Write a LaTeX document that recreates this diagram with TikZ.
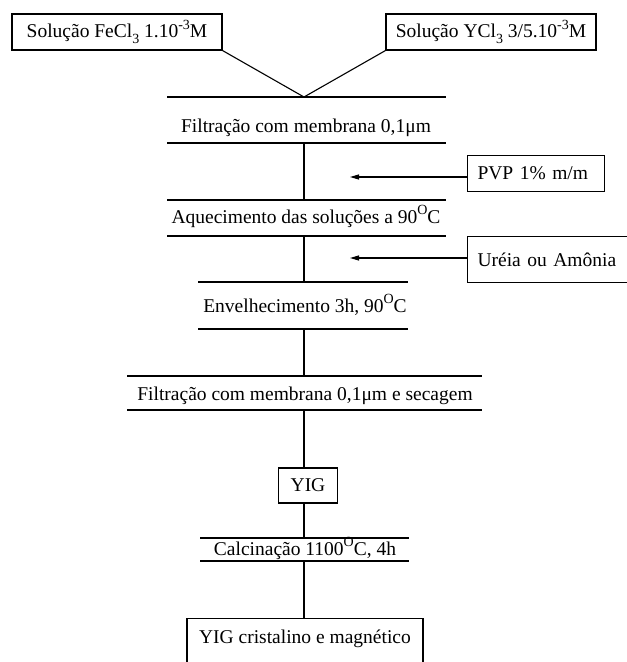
\documentclass[tikz,border=0pt]{standalone}
\usepackage{fontspec}
\setmainfont{Liberation Serif}
\usetikzlibrary{arrows.meta}
\newcommand\mysup[1]{\raisebox{0.42em}{\fontsize{14}{14}\selectfont #1}}
\newcommand\mysub[1]{\raisebox{-0.28em}{\fontsize{14}{14}\selectfont #1}}
\begin{document}
\begin{tikzpicture}[x=1pt,y=-1pt, line width=1.1pt,
  every node/.style={font=\fontsize{19.5}{22}\selectfont},
  box/.style={draw, inner sep=0pt},
  sidebox/.style={draw, inner xsep=10pt, inner ysep=0pt, align=left},
  lbl/.style={anchor=base, inner sep=0pt},
  feed/.style={-{Triangle[length=9pt,width=5pt]}}]
\useasboundingbox (0,0) rectangle (627,662);
\clip (0,0) rectangle (627,662);
\fill[white] (0,0) rectangle (627,662);

% top boxes
\node[box, minimum width=210pt, minimum height=36pt] (fe) at (117,32)
  {Solução FeCl\mysub{3} 1.10\mysup{-3}M};
\node[box, minimum width=210pt, minimum height=36pt] (ycl) at (491,32)
  {Solução YCl\mysub{3} 3/5.10\mysup{-3}M};
\coordinate (apex) at (304,97);
\draw (fe.south east) -- (apex);
\draw (ycl.south west) -- (apex);

% step 1
\draw (167,97) -- (446,97);
\node[lbl] (t1) at (306,132) {Filtração com membrana 0,1μm};
\draw (167,143) -- (446,143);
\coordinate (t1b) at (304,143);

% step 2
\coordinate (t2a) at (304,200);
\draw (t1b) -- (t2a);
\draw (167,200) -- (446,200);
\node[lbl] (t2) at (306,223) {Aquecimento das soluções a 90\mysup{O}C};
\draw (167,236) -- (446,236);
\coordinate (t2b) at (304,236);

% PVP
\node[sidebox, minimum height=36pt, text width=117pt, anchor=north west] (pvp) at (467,155) {PVP 1\% m/m};
\coordinate (pa) at (350,177);
\draw[feed] (pvp.west |- pa) -- (pa);

% step 3
\coordinate (t3a) at (304,282);
\draw (t2b) -- (t3a);
\draw (198,282) -- (408,282);
\node[lbl] (t3) at (305,312) {Envelhecimento 3h, 90\mysup{O}C};
\draw (198,329) -- (408,329);
\coordinate (t3b) at (304,329);

% Ureia
\node[sidebox, minimum height=46pt, text width=180pt, anchor=north west] (ur) at (467,236) {Uréia ou Amônia};
\coordinate (ua) at (350,258);
\draw[feed] (ur.west |- ua) -- (ua);

% step 4
\coordinate (t4a) at (304,376);
\draw (t3b) -- (t4a);
\draw (127,376) -- (482,376);
\node[lbl] (t4) at (305,400) {Filtração com membrana 0,1μm e secagem};
\draw (127,410) -- (482,410);
\coordinate (t4b) at (304,410);

% YIG
\node[box, minimum width=59pt, minimum height=35pt] (yig) at (308,485.5) {YIG};
\draw (t4b) -- (t4b |- yig.north);

% step 5
\coordinate (t5a) at (304,538);
\draw (t5a |- yig.south) -- (t5a);
\draw (200,538) -- (409,538);
\node[lbl] (t5) at (305,555) {Calcinação 1100\mysup{O}C, 4h};
\draw (200,561) -- (409,561);
\coordinate (t5b) at (304,561);

% final
\node[box, minimum width=236pt, text height=15pt, text depth=45pt, inner ysep=10pt, anchor=north] (fin) at (305,618) {YIG cristalino e magnético};
\draw (t5b) -- (t5b |- fin.north);
\end{tikzpicture}
\end{document}
